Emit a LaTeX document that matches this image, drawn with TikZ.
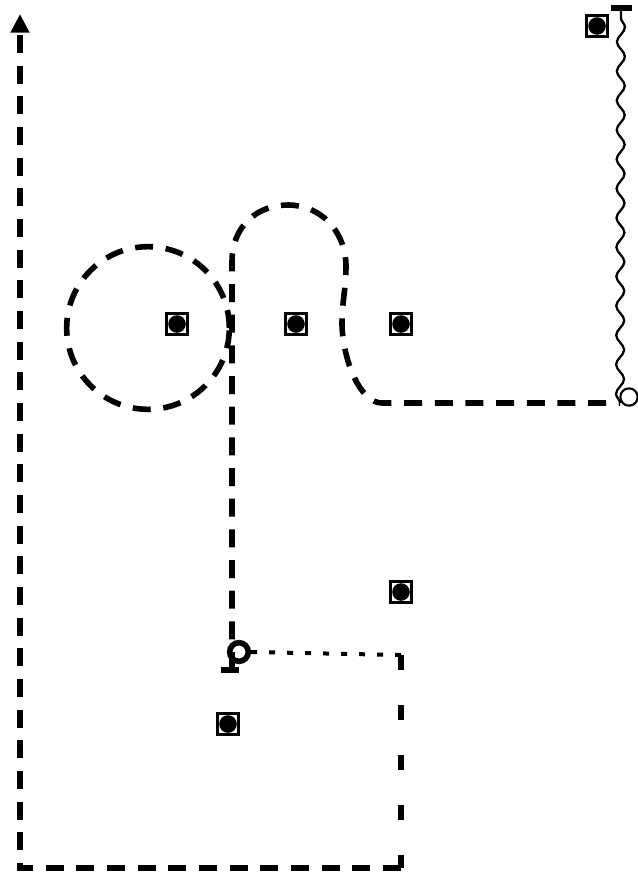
\documentclass[tikz,border=0pt]{standalone}
\usetikzlibrary{arrows.meta,decorations.pathmorphing}
\tikzset{
  sq/.style={rectangle,draw=black,fill=white,line width=1.8pt,minimum size=15.5pt,inner sep=0pt,
    path picture={\fill[black] (path picture bounding box.center) circle (6.6pt);}},
  thickdash/.style={line width=4.2pt,dash pattern=on 13.5pt off 9.5pt},
  sparsedash/.style={line width=4.4pt,dash pattern=on 11.5pt off 26pt},
  dots/.style={line width=3pt,dash pattern=on 4.5pt off 9pt},
  ring/.style={circle,draw=black,fill=none,inner sep=0pt},
  pt/.style={inner sep=0pt,minimum size=0pt}
}
\begin{document}
\begin{tikzpicture}[x=0.75pt,y=-0.75pt]
\useasboundingbox (0,0) rectangle (638,875);
% squares
\node[sq] (s1) at (177,324) {};
\node[sq] (s2) at (296,324) {};
\node[sq] (s3) at (401,324) {};
\node[sq] (s4) at (401,592) {};
\node[sq] (s5) at (228,724) {};
\node[sq] (s6) at (597,26) {};
% big circle
\node[ring,minimum size=122pt,thickdash] (big) at (148,328) {};
% anchors
\coordinate (tbar) at (232,670);
\coordinate (cEnd) at (620,403);
\coordinate (wTop) at (621,8);
\coordinate (cornerA) at (401,655);
\coordinate (cornerB) at (401,868);
\coordinate (cornerC) at (20,868);
\coordinate (arrowTop) at (20,14);
% small rings
\node[ring,line width=4.2pt,minimum size=14pt] (r1) at (239,652) {};
\node[ring,line width=1.6pt,minimum size=13pt] (r2) at (629,397) {};
% long curved connector
\draw[thickdash] (tbar) -- (232,262)
  .. controls (232,225) and (258,205) .. (288,205)
  .. controls (320,205) and (345,230) .. (346,265)
  .. controls (346,290) and (342,300) .. (342,325)
  .. controls (343,360) and (360,403) .. (382,403)
  -- (cEnd);
\draw[line width=4pt] (221,670) -- (239,670);
% wavy
\draw[line width=1.7pt,decorate,decoration={snake,segment length=22pt,amplitude=3pt}] (cEnd) -- (wTop);
\draw[line width=4pt] (611,8) -- (632,8);
% dotted
\draw[dots] (r1.east) -- (cornerA);
% outer route
\draw[sparsedash] (cornerA) -- (cornerB);
\draw[thickdash,-{Triangle[length=14pt,width=13.5pt]}] (cornerB) -- (cornerC) -- (arrowTop);
\end{tikzpicture}
\end{document}
